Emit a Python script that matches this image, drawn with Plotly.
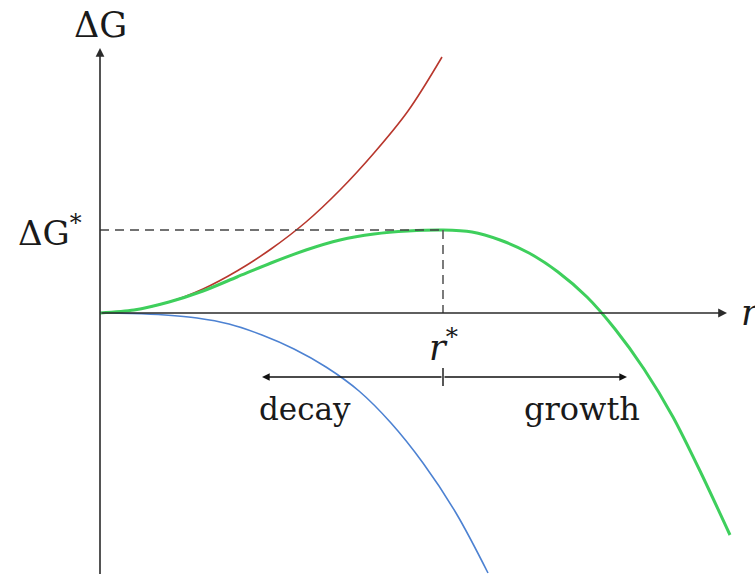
import plotly.graph_objects as go

# Free energy of a nucleus vs. radius (arbitrary units)
surface_r = [0, 34, 69, 103, 137, 171, 206, 240, 274, 308, 342]
surface_dg = [0, 3, 11, 24, 42, 64, 91, 123, 160, 202, 256]

volume_r = [0, 32, 65, 97, 129, 162, 194, 226, 259, 291, 323, 356, 388]
volume_dg = [0, -0.5, -2, -5, -11, -22, -36, -54, -78, -110, -150, -200, -260]

total_r = [0, 34, 69, 103, 137, 171, 206, 240, 274, 308, 343,
           372, 400, 429, 458, 487, 515, 544, 573, 601, 630]
total_dg = [0, 3, 11, 22, 36, 50, 63, 73, 79, 82, 83,
            81, 73, 60, 41, 16, -16, -56, -104, -160, -222]

r_star = 343
dg_star = 83

# Visible window and annotation geometry
x_range = [-100, 655]
y_range = [-261, 313]
y_top = 265
x_tip = 627
arrow_y = -64
decay_tip = 162
growth_tip = 527

FONT = "DejaVu Serif"
TXT = "#1a1a1a"
AXC = "#2b2b2b"

fig = go.Figure()

fig.add_trace(go.Scatter(x=surface_r, y=surface_dg, mode="lines",
                         line=dict(color="#b8372d", width=1.6, shape="spline", smoothing=1),
                         hoverinfo="skip"))
fig.add_trace(go.Scatter(x=volume_r, y=volume_dg, mode="lines",
                         line=dict(color="#4d82d2", width=1.6, shape="spline", smoothing=1),
                         hoverinfo="skip"))
fig.add_trace(go.Scatter(x=total_r, y=total_dg, mode="lines",
                         line=dict(color="#3ecf5c", width=3, shape="spline", smoothing=0.8),
                         hoverinfo="skip"))

# Dashed guides to the barrier maximum
fig.add_trace(go.Scatter(x=[0, r_star], y=[dg_star, dg_star], mode="lines",
                         line=dict(color="#444444", width=1.6, dash="9px,6px"),
                         hoverinfo="skip"))
fig.add_trace(go.Scatter(x=[r_star, r_star], y=[dg_star, 0], mode="lines",
                         line=dict(color="#5a5a5a", width=1.6, dash="9px,6px"),
                         hoverinfo="skip"))

# Axes drawn as arrows
annotations = []


def arrow(x, y, ax, ay, width=1.6, size=1.1, color=AXC):
    annotations.append(dict(x=x, y=y, ax=ax, ay=ay, xref="x", yref="y",
                            axref="x", ayref="y", text="", showarrow=True,
                            arrowhead=2, arrowsize=size, arrowwidth=width,
                            arrowcolor=color, standoff=0, startstandoff=0))


arrow(0, y_top, 0, y_range[0] - 5)
arrow(x_tip, 0, 0, 0)
arrow(decay_tip, arrow_y, r_star, arrow_y, width=1.4, size=1.1, color="#111111")
arrow(growth_tip, arrow_y, r_star, arrow_y, width=1.4, size=1.1, color="#111111")

# small tick at r* on the decay/growth arrow
fig.add_trace(go.Scatter(x=[r_star, r_star], y=[arrow_y + 9, arrow_y - 9], mode="lines",
                         line=dict(color="#111111", width=1.4), hoverinfo="skip"))


def label(x, y, text, size=31, xanchor="center"):
    annotations.append(dict(x=x, y=y, xref="x", yref="y", text=text, showarrow=False,
                            xanchor=xanchor, yanchor="middle",
                            font=dict(family=FONT, size=size, color=TXT)))


label(0, 288, "ΔG", size=35)
label(-16, 82, "ΔG<sup>*</sup>", size=34, xanchor="right")
label(r_star, -32, "<i>r</i><sup>*</sup>", size=35)
label(639, 0, "<i>r</i>", size=35, xanchor="left")
label(205, -96, "decay", size=31)
label(482, -96, "growth", size=32)

fig.update_layout(
    width=755, height=574,
    margin=dict(l=0, r=0, t=0, b=0),
    paper_bgcolor="white", plot_bgcolor="white",
    showlegend=False,
    xaxis=dict(range=x_range, visible=False, fixedrange=True),
    yaxis=dict(range=y_range, visible=False, fixedrange=True),
    annotations=annotations,
)

fig.write_html("out.html")
